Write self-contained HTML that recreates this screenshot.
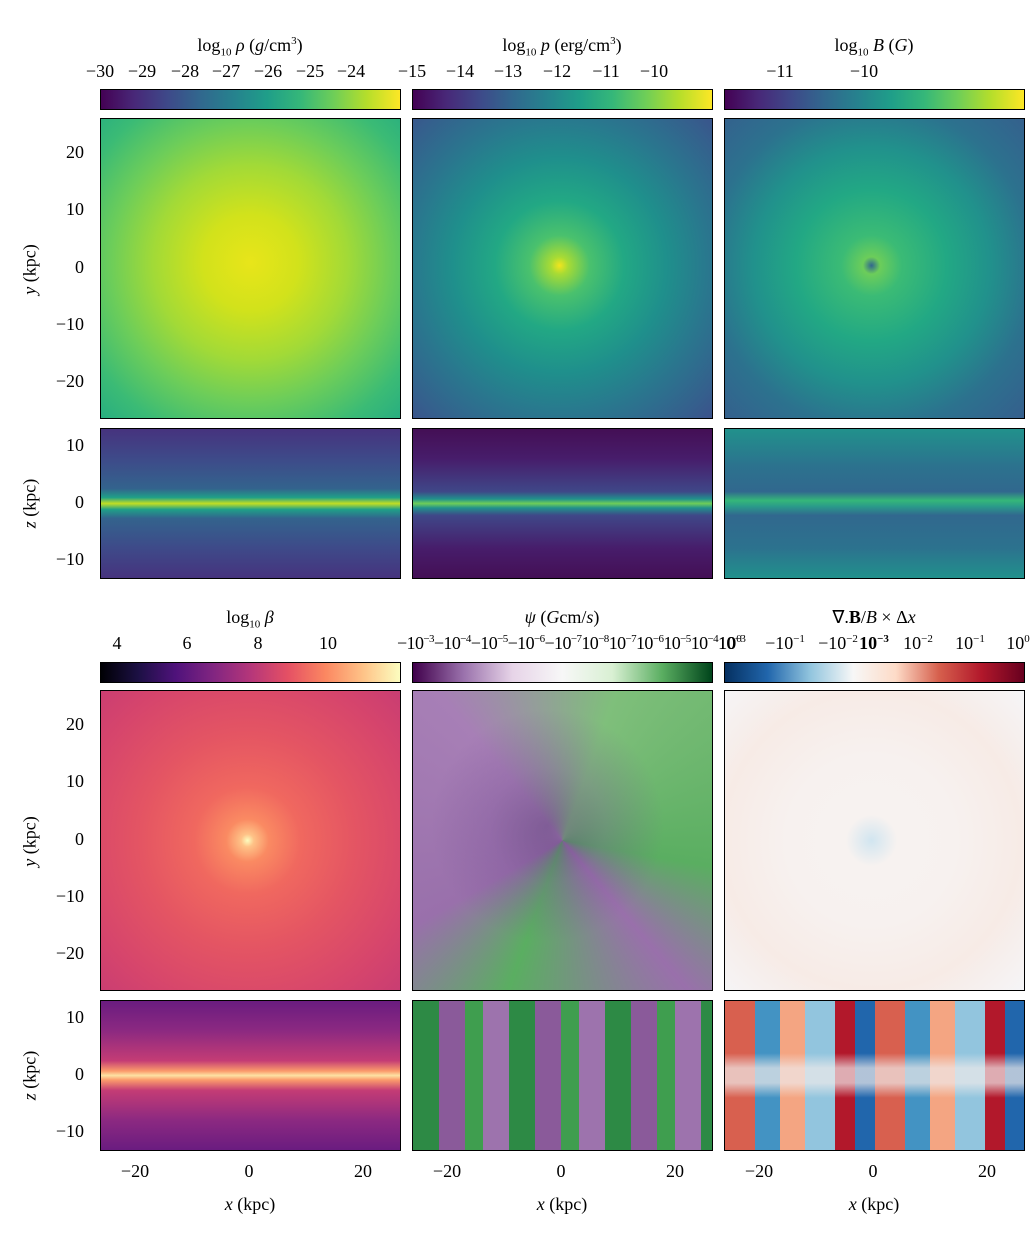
<!DOCTYPE html><html><head><style>
body{margin:0;width:1036px;height:1252px;background:#fff;position:relative;overflow:hidden;font-family:"Liberation Serif",serif;color:#000}
.p{position:absolute;border:1px solid #000;box-sizing:border-box;overflow:hidden}
.t{position:absolute;font-size:18px;white-space:nowrap}
.c{position:absolute;font-size:18px;white-space:nowrap;transform:translateX(-50%)}
.r{position:absolute;font-size:18px;white-space:nowrap;text-align:right;width:60px}
.v{position:absolute;font-size:18px;white-space:nowrap;transform:rotate(-90deg);transform-origin:center}
sup,sub{font-size:11px}
.vir{background:linear-gradient(90deg,#440154,#482878,#3e4989,#31688e,#26828e,#1f9e89,#35b779,#6ece58,#b5de2b,#fde725)}
.mag{background:linear-gradient(90deg,#000004,#1c1044,#4f127b,#812581,#b5367a,#e55064,#fb8761,#fec287,#fcfdbf)}
.prg{background:linear-gradient(90deg,#40004b,#9970ab,#e7d4e8,#f7f7f7,#d9f0d3,#5aae61,#00441b)}
.rdb{background:linear-gradient(90deg,#053061,#2166ac,#92c5de,#f7f7f7,#fddbc7,#d6604d,#b2182b,#67001f)}
</style></head><body>

<div class="c" style="left:250px;top:35px">log<sub>10</sub> <i>ρ</i> (<i>g</i>/cm<sup>3</sup>)</div>
<div class="c" style="left:562px;top:35px">log<sub>10</sub> <i>p</i> (erg/cm<sup>3</sup>)</div>
<div class="c" style="left:874px;top:35px">log<sub>10</sub> <i>B</i> (<i>G</i>)</div>

<div class="c" style="left:100px;top:61px">−30</div><div class="c" style="left:142px;top:61px">−29</div><div class="c" style="left:185px;top:61px">−28</div><div class="c" style="left:226px;top:61px">−27</div><div class="c" style="left:268px;top:61px">−26</div><div class="c" style="left:310px;top:61px">−25</div><div class="c" style="left:351px;top:61px">−24</div>
<div class="c" style="left:412px;top:61px">−15</div><div class="c" style="left:460px;top:61px">−14</div><div class="c" style="left:508px;top:61px">−13</div><div class="c" style="left:557px;top:61px">−12</div><div class="c" style="left:606px;top:61px">−11</div><div class="c" style="left:654px;top:61px">−10</div>
<div class="c" style="left:780px;top:61px">−11</div><div class="c" style="left:864px;top:61px">−10</div>

<div class="p vir" style="left:100px;top:89px;width:301px;height:21px"></div>
<div class="p vir" style="left:412px;top:89px;width:301px;height:21px"></div>
<div class="p vir" style="left:724px;top:89px;width:301px;height:21px"></div>

<div class="p" style="left:100px;top:118px;width:301px;height:301px;background:radial-gradient(circle at 50% 48%,#e8e51a 0%,#d2e21b 22%,#a2da37 45%,#6ccd5a 65%,#3bbb75 85%,#28ae80 100%)"></div>
<div class="p" style="left:412px;top:118px;width:301px;height:301px;background:radial-gradient(circle at 49% 49%,#f2e51d 0%,#a8db34 4%,#4ac16d 14%,#22a884 30%,#1f8f8c 50%,#2a768e 70%,#355f8d 90%,#3b528b 100%)"></div>
<div class="p" style="left:724px;top:118px;width:301px;height:301px;background:radial-gradient(circle at 49% 49%,#31668e 0%,#6ccd5a 4%,#3bbb75 14%,#22a884 35%,#21918c 55%,#2c728e 75%,#355f8d 100%)"></div>

<div class="p" style="left:100px;top:428px;width:301px;height:151px;background:linear-gradient(180deg,#46337e 0%,#3e4a89 20%,#33638d 40%,#1fa088 46%,#c2df23 50%,#1fa088 54%,#33638d 60%,#3e4a89 80%,#46337e 100%)"></div>
<div class="p" style="left:412px;top:428px;width:301px;height:151px;background:linear-gradient(180deg,#440f55 0%,#471d6b 20%,#3f4788 42%,#21918c 47%,#6ece58 50%,#21918c 53%,#3f4788 58%,#471d6b 80%,#440f55 100%)"></div>
<div class="p" style="left:724px;top:428px;width:301px;height:151px;background:linear-gradient(180deg,#21918c 0%,#2c728e 25%,#31688e 42%,#35b779 48%,#2a9a8a 52%,#31688e 58%,#2c728e 80%,#21918c 100%)"></div>

<div class="r" style="left:24px;top:142px">20</div>
<div class="r" style="left:24px;top:199px">10</div>
<div class="r" style="left:24px;top:257px">0</div>
<div class="r" style="left:24px;top:314px">−10</div>
<div class="r" style="left:24px;top:371px">−20</div>
<div class="v" style="left:0px;top:259px;width:60px;text-align:center"><i>y</i> (kpc)</div>
<div class="r" style="left:24px;top:435px">10</div>
<div class="r" style="left:24px;top:492px">0</div>
<div class="r" style="left:24px;top:549px">−10</div>
<div class="v" style="left:0px;top:493px;width:60px;text-align:center"><i>z</i> (kpc)</div>

<div class="c" style="left:250px;top:607px">log<sub>10</sub> <i>β</i></div>
<div class="c" style="left:562px;top:607px"><i>ψ</i> (<i>G</i>cm/<i>s</i>)</div>
<div class="c" style="left:874px;top:607px">∇.<b>B</b>/<i>B</i> × Δ<i>x</i></div>
<div class="c" style="left:117px;top:633px">4</div><div class="c" style="left:187px;top:633px">6</div><div class="c" style="left:258px;top:633px">8</div><div class="c" style="left:328px;top:633px">10</div>
<div class="t" style="left:397px;top:633px;letter-spacing:-0.6px">−10<sup>−3</sup>−10<sup>−4</sup>−10<sup>−5</sup>−10<sup>−6</sup>−10<sup>−7</sup>10<sup>−8</sup>10<sup>−7</sup>10<sup>−6</sup>10<sup>−5</sup>10<sup>−4</sup>10<sup>−3</sup></div>
<div class="c" style="left:730px;top:633px">10<sup>0</sup></div><div class="c" style="left:785px;top:633px">−10<sup>−1</sup></div><div class="c" style="left:838px;top:633px">−10<sup>−2</sup></div><div class="c" style="left:874px;top:633px"><b>10<sup>−3</sup></b></div><div class="c" style="left:918px;top:633px">10<sup>−2</sup></div><div class="c" style="left:970px;top:633px">10<sup>−1</sup></div><div class="c" style="left:1018px;top:633px">10<sup>0</sup></div>
<div class="p mag" style="left:100px;top:662px;width:301px;height:21px"></div>
<div class="p prg" style="left:412px;top:662px;width:301px;height:21px"></div>
<div class="p rdb" style="left:724px;top:662px;width:301px;height:21px"></div>

<div class="p" style="left:100px;top:690px;width:301px;height:301px;background:radial-gradient(circle at 49% 50%,#fcfdbf 0%,#fec287 3%,#fa8a62 10%,#f0685f 25%,#e45563 50%,#d6456c 80%,#c93d72 100%)"></div>
<div class="p" style="left:412px;top:690px;width:301px;height:301px;background:conic-gradient(from 200deg at 50% 50%,#5aae61,#9970ab 40deg,#a77fb6 120deg,#7fbf7b 180deg,#5aae61 260deg,#9970ab 300deg,#5aae61 360deg)"></div>
<div class="p" style="left:412px;top:690px;width:301px;height:301px;background:radial-gradient(circle at 45% 45%,rgba(90,60,120,.5) 0%,rgba(120,80,150,.3) 25%,rgba(0,0,0,0) 50%)"></div>
<div class="p" style="left:724px;top:690px;width:301px;height:301px;background:radial-gradient(circle at 49% 50%,#d1e5f0 0%,#f7f2f0 12%,#f7f1ef 40%,#f7ebe6 70%,#f5f5f7 100%)"></div>

<div class="p" style="left:100px;top:1000px;width:301px;height:151px;background:linear-gradient(180deg,#6a1c80 0%,#8c2981 20%,#c43c75 40%,#fb9b6b 47%,#fde2a3 50%,#fb9b6b 53%,#c43c75 60%,#8c2981 80%,#6a1c80 100%)"></div>
<div class="p" style="left:412px;top:1000px;width:301px;height:151px;background:repeating-linear-gradient(90deg,#2d8a45 0 26px,#8a5a9a 26px 52px,#3f9e4f 52px 70px,#9d73ad 70px 96px)"></div>
<div class="p" style="left:724px;top:1000px;width:301px;height:151px;background:repeating-linear-gradient(90deg,#d8604f 0 30px,#4393c3 30px 55px,#f4a582 55px 80px,#92c5de 80px 110px,#b2182b 110px 130px,#2166ac 130px 150px)"></div>
<div class="p" style="left:724px;top:1000px;width:301px;height:151px;background:linear-gradient(180deg,rgba(255,255,255,0) 0%,rgba(255,255,255,0) 35%,rgba(240,235,235,.7) 45%,rgba(240,235,235,.7) 55%,rgba(255,255,255,0) 65%)"></div>

<div class="r" style="left:24px;top:714px">20</div>
<div class="r" style="left:24px;top:771px">10</div>
<div class="r" style="left:24px;top:829px">0</div>
<div class="r" style="left:24px;top:886px">−10</div>
<div class="r" style="left:24px;top:943px">−20</div>
<div class="v" style="left:0px;top:831px;width:60px;text-align:center"><i>y</i> (kpc)</div>
<div class="r" style="left:24px;top:1007px">10</div>
<div class="r" style="left:24px;top:1064px">0</div>
<div class="r" style="left:24px;top:1121px">−10</div>
<div class="v" style="left:0px;top:1065px;width:60px;text-align:center"><i>z</i> (kpc)</div>

<div class="c" style="left:135px;top:1161px">−20</div><div class="c" style="left:249px;top:1161px">0</div><div class="c" style="left:363px;top:1161px">20</div>
<div class="c" style="left:447px;top:1161px">−20</div><div class="c" style="left:561px;top:1161px">0</div><div class="c" style="left:675px;top:1161px">20</div>
<div class="c" style="left:759px;top:1161px">−20</div><div class="c" style="left:873px;top:1161px">0</div><div class="c" style="left:987px;top:1161px">20</div>
<div class="c" style="left:250px;top:1194px"><i>x</i> (kpc)</div>
<div class="c" style="left:562px;top:1194px"><i>x</i> (kpc)</div>
<div class="c" style="left:874px;top:1194px"><i>x</i> (kpc)</div>
</body></html>
